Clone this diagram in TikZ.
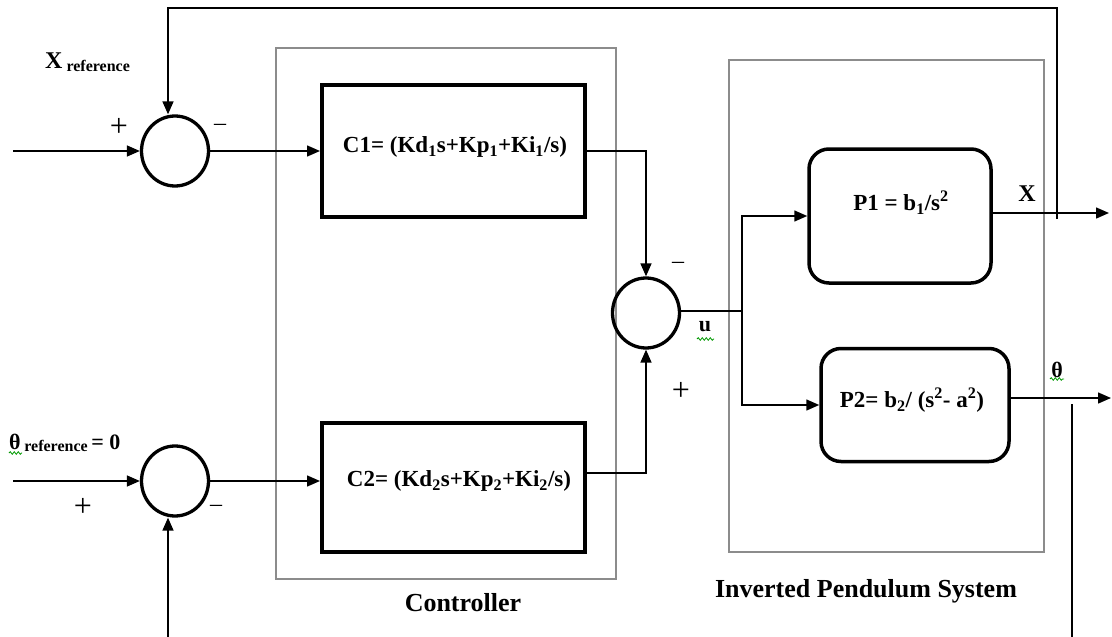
\documentclass[tikz,border=0pt]{standalone}
\usepackage{fontspec}
\setmainfont{Liberation Serif}
\usetikzlibrary{arrows.meta,shapes.geometric,decorations.pathmorphing}
\newcommand\setfs[1]{\fontsize{#1}{#1}\selectfont}
\begin{document}
\begin{tikzpicture}[x=1pt,y=-1pt,
  frame/.style={draw=black!45, line width=1.3pt, inner sep=0pt},
  cbox/.style={draw, line width=4pt, minimum width=263pt, inner sep=0pt},
  pbox/.style={draw, line width=3.5pt, rounded corners=20pt, inner sep=0pt},
  sum/.style={draw, ellipse, line width=3.3pt, minimum width=67pt, minimum height=70pt, inner sep=0pt},
  conn/.style={line width=1.5pt},
  arr/.style={conn, -{Triangle[length=13pt,width=11pt]}},
  eq/.style={font=\bfseries\setfs{23}, inner sep=0pt},
  lbl/.style={font=\bfseries\setfs{26}, inner sep=0pt},
  sgn/.style={font=\setfs{32}, inner sep=0pt},
  dsh/.style={font=\setfs{24}, inner sep=0pt},
  squig/.style={draw=green!60!black, line width=0.8pt, decorate, decoration={snake, segment length=4pt, amplitude=1.3pt}}
]
\useasboundingbox (0,0) rectangle (1112,637);

% grouping frames
\node[frame, minimum width=340pt, minimum height=531pt] (ctrl) at (446,313.5) {};
\node[frame, minimum width=315pt, minimum height=492pt] (pend) at (886.5,306) {};
\node[lbl] (ctrllbl) at (463,603) {Controller};
\node[lbl] (pendlbl) at (866,591) {Inverted Pendulum System};

% summing junctions
\node[sum] (S1) at (175,151) {};
\node[sum] (S2) at (175,481) {};
\node[sum] (S3) at (646,313) {};

% controller blocks
\node[cbox, minimum height=132pt] (C1) at (453.5,151) {};
\node[eq] (C1t) at (455,147) {C1= (Kd\textsubscript{1}s+Kp\textsubscript{1}+Ki\textsubscript{1}/s)};
\node[cbox, minimum height=129pt] (C2) at (453.5,487) {};
\node[eq] (C2t) at (459,481) {C2= (Kd\textsubscript{2}s+Kp\textsubscript{2}+Ki\textsubscript{2}/s)};

% plant blocks
\node[pbox, minimum width=182pt, minimum height=134pt] (P1) at (900,216) {};
\node[eq] (P1t) at (901,203) {P1 = b\textsubscript{1}/s\textsuperscript{2}};
\node[pbox, minimum width=188pt, minimum height=113pt] (P2) at (915,405) {};
\node[eq] (P2t) at (912,400) {P2= b\textsubscript{2}/ (s\textsuperscript{2}- a\textsuperscript{2})};

% free ends
\coordinate (in1) at (13,151);
\coordinate (in2) at (13,481);
\coordinate (br) at (742,311);
\coordinate (xout) at (1109,213);
\coordinate (thout) at (1111,398);
\coordinate (fbX) at (1057,219);
\coordinate (fbXt) at (1057,8);
\coordinate (fbXl) at (168,8);
\coordinate (fbTh) at (1072,404);
\coordinate (fbThb) at (1072,637);
\coordinate (fb2) at (168,637);

% connectors
\draw[arr] (in1) -- (S1.west);
\draw[arr] (S1.east) -- (C1.west);
\draw[arr] (in2) -- (S2.west);
\draw[arr] (S2.east) -- (S2.east -| C2.west);
\draw[arr] (C1.east) -| (S3.north);
\draw[arr] ([yshift=14pt]C2.east) -| (S3.south);
\draw[conn] (S3.east |- br) -- (br);
\draw[arr] (br) |- (P1.west);
\draw[arr] (br) |- (P2.west);
\draw[arr] ([yshift=3pt]P1.east) -- (xout);
\draw[arr] ([yshift=7pt]P2.east) -- (thout);
\draw[arr] (fbX) -- (fbXt) -- (fbXl) -- (fbXl |- S1.north);
\draw[conn] (fbTh) -- (fbThb);
\draw[arr] (fb2) -- (fb2 |- S2.south);

% labels
\node[inner sep=0pt, anchor=base west] (xref) at (45,68) {\bfseries\setfs{24}X\,\raisebox{-3pt}{\setfs{16}reference}};
\node[inner sep=0pt, anchor=base west] (thref) at (9,449) {\bfseries\setfs{22}θ\,\raisebox{-2pt}{\setfs{16}reference}\,\setfs{22}= 0};
\node[sgn] (p1) at (119,127) {+};
\node[dsh] (m1) at (220,127) {–};
\node[sgn] (p2) at (83,507) {+};
\node[dsh] (m2) at (216,508) {–};
\node[dsh] (m3) at (678,265) {–};
\node[sgn] (p3) at (681,391) {+};
\node[inner sep=0pt, font=\bfseries\setfs{22}] (u) at (705,327) {u};
\node[inner sep=0pt, font=\bfseries\setfs{24}] (X) at (1027,194) {X};
\node[inner sep=0pt, font=\bfseries\setfs{22}] (th) at (1057,370) {θ};

% spell-check squiggles
\draw[squig] (697,339) -- (714,339);
\draw[squig] (9,453) -- (22,453);
\draw[squig] (1050,379) -- (1064,379);
\end{tikzpicture}
\end{document}
